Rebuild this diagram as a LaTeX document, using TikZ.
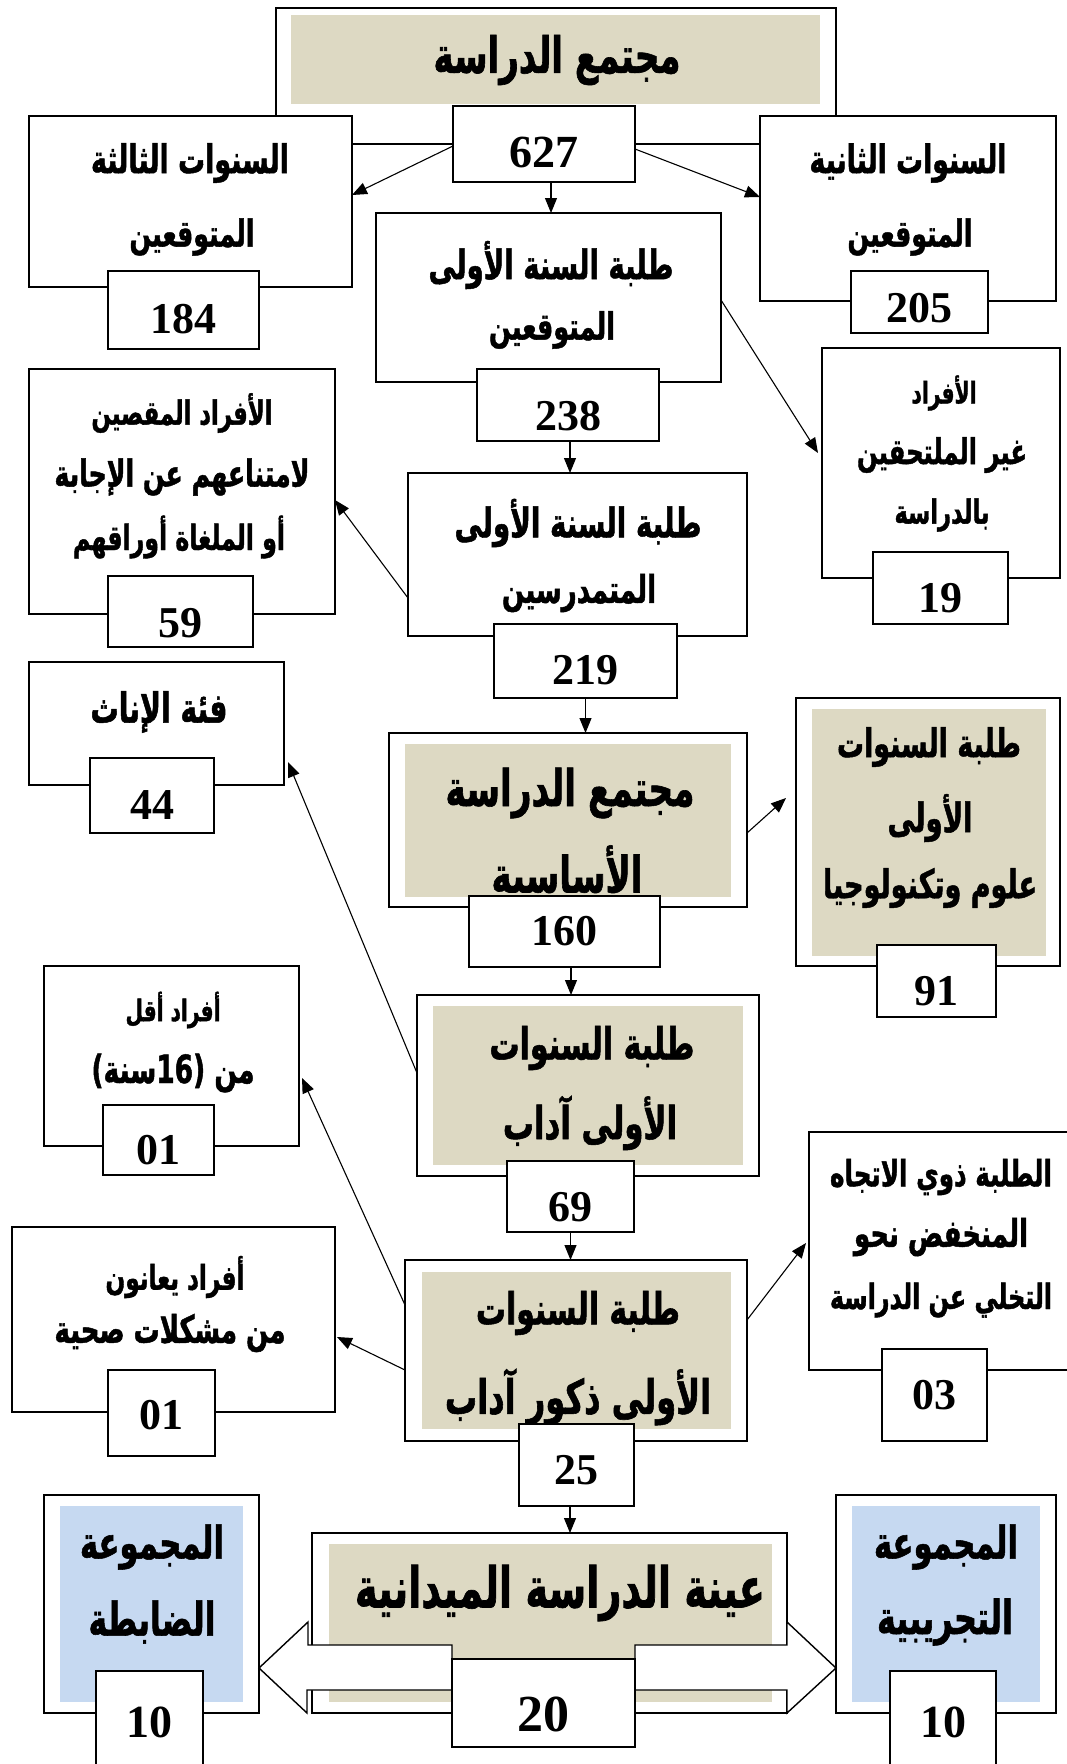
\documentclass[tikz,border=0pt]{standalone}
\usepackage{fontspec}
\setmainfont{Liberation Serif}
\newfontfamily\arfont[Script=Arabic,FakeStretch=0.68,FakeBold=1.2]{DejaVu Sans}
\TeXXeTstate=1
\usetikzlibrary{arrows.meta,calc}
\definecolor{sand}{HTML}{DDD9C3}
\definecolor{paleblue}{HTML}{C6D9F1}

% rectangle node from its two corners: name, x1, y1, x2, y2, style
\newcommand\rbox[6]{\path ({(#2+#4)/2},{(#3+#5)/2}) node[#6,
  minimum width={(#4-#2)*1pt}, minimum height={(#5-#3)*1pt}] (#1) {};}
% one line of Arabic text: name, x, y, width, text
\newcommand\artext[5]{\node[lbl] (#1) at (#2,#3)
  {\resizebox{#4pt}{!}{\arfont\bfseries #5}};}
% a count: name, x, y, size, digits
\newcommand\numtext[5]{\node[lbl, font=\bfseries\fontsize{#4}{#4}\selectfont] (#1) at (#2,#3) {#5};}

\tikzset{
  frame/.style={draw=black, line width=1.8pt, fill=white, inner sep=0pt, outer sep=0pt},
  sandfill/.style={fill=sand, inner sep=0pt, outer sep=0pt},
  bluefill/.style={fill=paleblue, inner sep=0pt, outer sep=0pt},
  lbl/.style={inner sep=0pt, outer sep=0pt},
  arr/.style={line width=1.1pt, -{Triangle[length=15pt,width=12pt]}},
  blockarr/.style={draw=black, line width=1.4pt, fill=white, line join=miter},
}

\begin{document}
\begin{tikzpicture}[x=1pt, y=-1pt]
\useasboundingbox[fill=white] (0,0) rectangle (1067,1764);

% ---- study population
\rbox{T}{276}{8}{836}{144}{frame}
\rbox{Tin}{291}{15}{820}{104}{sandfill}
\artext{Ttxt}{557}{60}{247}{\beginR مجتمع الدراسة\endR}

\rbox{L3}{29}{116}{352}{287}{frame}
\artext{L3a}{190}{163}{198}{\beginR السنوات الثالثة\endR}
\artext{L3b}{192}{237}{125}{\beginR المتوقعين\endR}
\rbox{N184}{108}{271}{259}{349}{frame}
\numtext{N184t}{183.5}{319}{44}{184}

\rbox{R2}{760}{116}{1056}{301}{frame}
\artext{R2a}{908}{163}{197}{\beginR السنوات الثانية\endR}
\artext{R2b}{910}{237}{125}{\beginR المتوقعين\endR}
\rbox{N205}{851}{271}{988}{333}{frame}
\numtext{N205t}{919.5}{308}{44}{205}

\rbox{N627}{453}{106}{635}{182}{frame}
\numtext{N627t}{544}{152}{46}{627}

% ---- first-year students expected
\rbox{C1}{376}{213}{721}{382}{frame}
\artext{C1a}{551}{265}{245}{\beginR طلبة السنة الأولى\endR}
\artext{C1b}{552}{330}{126}{\beginR المتوقعين\endR}
\rbox{N238}{477}{369}{659}{441}{frame}
\numtext{N238t}{568}{416}{44}{238}

\rbox{R19}{822}{348}{1060}{578}{frame}
\artext{R19a}{944}{393}{65}{\beginR الأفراد\endR}
\artext{R19b}{942}{455}{170}{\beginR غير الملتحقين\endR}
\artext{R19c}{942}{515}{95}{\beginR بالدراسة\endR}
\rbox{N19}{873}{552}{1008}{624}{frame}
\numtext{N19t}{940.5}{598}{44}{19}

% ---- enrolled first-year students
\rbox{C2}{408}{473}{747}{636}{frame}
\artext{C2a}{578}{523}{247}{\beginR طلبة السنة الأولى\endR}
\artext{C2b}{579}{593}{154}{\beginR المتمدرسين\endR}
\rbox{N219}{494}{624}{677}{698}{frame}
\numtext{N219t}{585.5}{670}{44}{219}

\rbox{L59}{29}{369}{335}{614}{frame}
\artext{L59a}{182}{413}{181}{\beginR الأفراد المقصين\endR}
\artext{L59b}{182}{477}{255}{\beginR لامتناعهم عن الإجابة\endR}
\artext{L59c}{179}{537}{212}{\beginR أو الملغاة أوراقهم\endR}
\rbox{N59}{108}{576}{253}{647}{frame}
\numtext{N59t}{180.5}{623}{44}{59}

% ---- basic study population
\rbox{L44}{29}{662}{284}{785}{frame}
\artext{L44a}{159}{712}{137}{\beginR فئة الإناث\endR}
\rbox{N44}{90}{758}{214}{833}{frame}
\numtext{N44t}{152}{805}{44}{44}

\rbox{C3}{389}{733}{747}{907}{frame}
\rbox{C3in}{405}{744}{731}{897}{sandfill}
\artext{C3a}{570}{793}{249}{\beginR مجتمع الدراسة\endR}
\artext{C3b}{567}{873}{151}{\beginR الأساسية\endR}
\rbox{N160}{469}{896}{660}{967}{frame}
\numtext{N160t}{564.5}{931}{44}{160}

\rbox{R91}{796}{698}{1060}{966}{frame}
\rbox{R91in}{812}{709}{1046}{956}{sandfill}
\artext{R91a}{929}{747}{184}{\beginR طلبة السنوات\endR}
\artext{R91b}{930}{818}{85}{\beginR الأولى\endR}
\artext{R91c}{930}{888}{214}{\beginR علوم وتكنولوجيا\endR}
\rbox{N91}{877}{945}{996}{1017}{frame}
\numtext{N91t}{936.5}{991}{44}{91}

% ---- arts students
\rbox{L01a}{44}{966}{299}{1146}{frame}
\artext{L01aa}{173}{1010}{95}{\beginR أفراد أقل\endR}
\artext{L01ab}{173}{1073}{163}{\beginR من (16سنة)\endR}
\rbox{N01a}{103}{1105}{214}{1175}{frame}
\numtext{N01at}{158.5}{1150}{44}{01}

\rbox{C4}{417}{995}{759}{1176}{frame}
\rbox{C4in}{433}{1006}{743}{1165}{sandfill}
\artext{C4a}{592}{1048}{205}{\beginR طلبة السنوات\endR}
\artext{C4b}{590}{1123}{174}{\beginR الأولى آداب\endR}
\rbox{N69}{507}{1161}{634}{1232}{frame}
\numtext{N69t}{570.5}{1207}{44}{69}

% ---- male arts students
\rbox{C5}{405}{1260}{747}{1441}{frame}
\rbox{C5in}{422}{1272}{731}{1429}{sandfill}
\artext{C5a}{578}{1313}{204}{\beginR طلبة السنوات\endR}
\artext{C5b}{578}{1397}{266}{\beginR الأولى ذكور آداب\endR}
\rbox{N25}{519}{1424}{634}{1506}{frame}
\numtext{N25t}{576.5}{1470}{44}{25}

\rbox{L01b}{12}{1227}{335}{1412}{frame}
\artext{L01ba}{175}{1277}{139}{\beginR أفراد يعانون\endR}
\artext{L01bb}{170}{1333}{231}{\beginR من مشكلات صحية\endR}
\rbox{N01b}{108}{1370}{215}{1456}{frame}
\numtext{N01bt}{161.5}{1415}{44}{01}

\rbox{R03}{809}{1132}{1075}{1370}{frame}
\artext{R03a}{941}{1177}{222}{\beginR الطلبة ذوي الاتجاه\endR}
\artext{R03b}{941}{1237}{174}{\beginR المنخفض نحو\endR}
\artext{R03c}{941}{1300}{222}{\beginR التخلي عن الدراسة\endR}
\rbox{N03}{882}{1349}{987}{1441}{frame}
\numtext{N03t}{934.5}{1395}{44}{03}

% ---- field sample and its two groups
\rbox{BL}{44}{1495}{259}{1713}{frame}
\rbox{BLin}{60}{1506}{243}{1702}{bluefill}
\artext{BLa}{152}{1547}{144}{\beginR المجموعة\endR}
\artext{BLb}{152}{1622}{127}{\beginR الضابطة\endR}
\rbox{N10L}{96}{1671}{203}{1800}{frame}
\numtext{N10Lt}{149.5}{1722}{46}{10}

\rbox{BR}{836}{1495}{1056}{1713}{frame}
\rbox{BRin}{852}{1506}{1040}{1702}{bluefill}
\artext{BRa}{946}{1547}{144}{\beginR المجموعة\endR}
\artext{BRb}{945}{1622}{136}{\beginR التجريبية\endR}
\rbox{N10R}{890}{1671}{996}{1800}{frame}
\numtext{N10Rt}{943}{1722}{46}{10}

\rbox{C6}{312}{1533}{787}{1713}{frame}
\rbox{C6in}{329}{1544}{772}{1702}{sandfill}
\artext{C6a}{560}{1593}{410}{\beginR عينة الدراسة الميدانية\endR}

% block arrows pointing to the two groups
\coordinate (tipL) at (BL.east |- 0,1668);
\coordinate (tipR) at (BR.west |- 0,1668);
\coordinate (N20w) at (452,1703);
\coordinate (N20e) at (635,1703);
\draw[blockarr] (tipL) -- ++(49,-46) -- ++(0,23) -- ([yshift=58pt]N20w)
  -- ([yshift=13pt]N20w) -- ++(-145,0) -- ++(0,23) -- cycle;
\draw[blockarr] (tipR) -- ++(-49,-46) -- ++(0,23) -- ([yshift=58pt]N20e)
  -- ([yshift=13pt]N20e) -- ++(152,0) -- ++(0,23) -- cycle;
\rbox{N20}{452}{1659}{635}{1747}{frame}
\numtext{N20t}{543.5}{1714}{52}{20}

% ---- connectors
\draw[arr] ([xshift=7pt]N627.south) -- ([xshift=7pt]N627.south |- C1.north);
\draw[arr] ([yshift=-2pt]N627.west) -- ([yshift=6.5pt]L3.east);
\draw[arr] ([yshift=-5pt]N627.east) -- ([yshift=11.5pt]R2.west);
\draw[arr] ([yshift=-2.5pt]C1.east) -- ([xshift=-4pt,yshift=10pt]R19.west);
\draw[arr] ([xshift=2pt]N238.south) -- ([xshift=2pt]N238.south |- C2.north);
\draw[arr] ([yshift=-43.5pt]C2.west) -- ([yshift=-8.5pt]L59.east);
\draw[arr] (N219.south) -- (N219.south |- C3.north);
\draw[arr] ([yshift=-13pt]C3.east) -- ([xshift=-10pt,yshift=34pt]R91.west);
\draw[arr] ([xshift=6.5pt]N160.south) -- ([xshift=6.5pt]N160.south |- C4.north);
\draw[arr] ([yshift=12.5pt]C4.west) -- ([xshift=4pt,yshift=-38.5pt]L44.east);
\draw[arr] (N69.south) -- (N69.south |- C5.north);
\draw[arr] ([yshift=45.5pt]C5.west) -- ([xshift=3pt,yshift=-22pt]L01a.east);
\draw[arr] ([yshift=-19.5pt]C5.west) -- ([xshift=2pt,yshift=-17.5pt]L01b.east);
\draw[arr] ([yshift=30.5pt]C5.east) -- ([xshift=-3pt,yshift=8pt]R03.west);
\draw[arr] ([xshift=-6.5pt]N25.south) -- ([xshift=-6.5pt]N25.south |- C6.north);
\end{tikzpicture}
\end{document}
